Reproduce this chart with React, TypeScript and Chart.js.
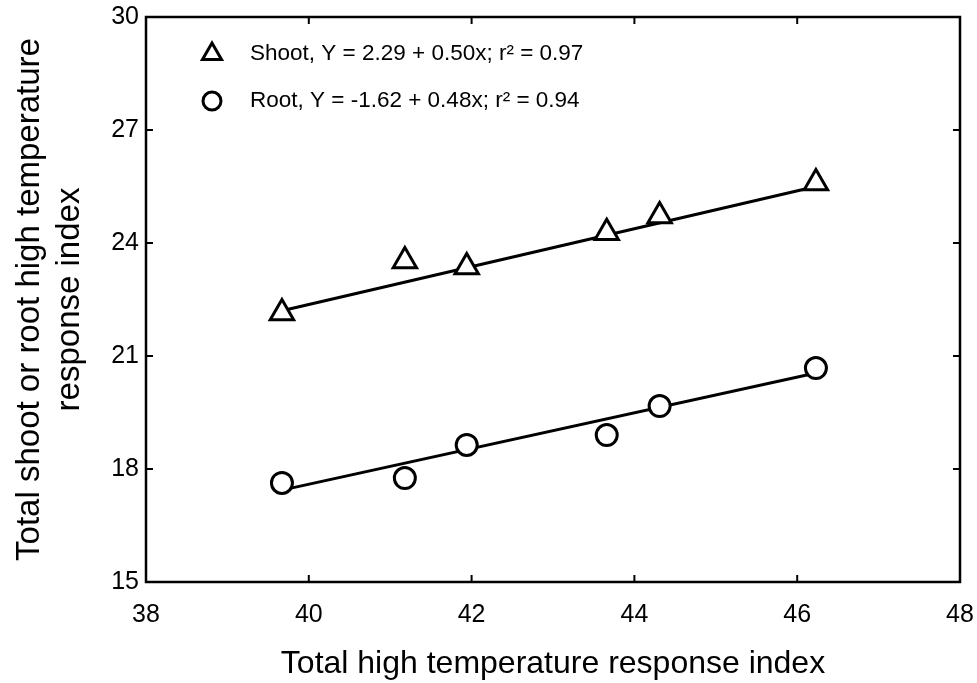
import React, { useEffect, useRef } from "react";
import { Chart, registerables } from "chart.js";
import { drawPoint } from "chart.js/helpers";

Chart.register(...registerables);

// ---- data ----
const xValues = [39.67, 41.18, 41.94, 43.66, 44.31, 46.23];
const shootValues = [22.14, 23.52, 23.36, 24.27, 24.72, 25.59];
const rootValues = [17.63, 17.76, 18.64, 18.9, 19.67, 20.68];

const fitX = [39.67, 46.23];
const shootFit = [22.2, 25.5];
const rootFit = [17.44, 20.55];

const shootLabel = "Shoot, Y = 2.29 + 0.50x; r\u00B2 = 0.97";
const rootLabel = "Root, Y = -1.62 + 0.48x; r\u00B2 = 0.94";

const xTicks = [38, 40, 42, 44, 46, 48];
const yTicks = [15, 18, 21, 24, 27, 30];

const xTitle = "Total high temperature response index";
const yTitle = ["Total shoot or root high temperature", "response index"];

const FONT = "'Liberation Sans', Arial, Helvetica, sans-serif";

const toPoints = (xs: number[], ys: number[]) => xs.map((x, i) => ({ x, y: ys[i] }));

const framePlugin = {
  id: "frame",
  afterDatasetsDraw(chart: any) {
    const { ctx, chartArea } = chart;
    const { left, right, top, bottom } = chartArea;
    const xs = chart.scales.x;
    const ys = chart.scales.y;
    const tl = 7;
    ctx.save();
    ctx.strokeStyle = "#000";
    ctx.lineWidth = 2.5;
    ctx.beginPath();
    ctx.rect(left, top, right - left, bottom - top);
    ctx.stroke();
    ctx.lineWidth = 2;
    ctx.beginPath();
    xs.ticks.forEach((t: any) => {
      const px = xs.getPixelForValue(t.value);
      ctx.moveTo(px, bottom);
      ctx.lineTo(px, bottom - tl);
      ctx.moveTo(px, top);
      ctx.lineTo(px, top + tl);
    });
    ys.ticks.forEach((t: any) => {
      const py = ys.getPixelForValue(t.value);
      ctx.moveTo(left, py);
      ctx.lineTo(left + tl, py);
      ctx.moveTo(right, py);
      ctx.lineTo(right - tl, py);
    });
    ctx.stroke();
    ctx.restore();
  },
};

const legendPlugin = {
  id: "insideLegend",
  afterDatasetsDraw(chart: any) {
    const { ctx, chartArea } = chart;
    const entries = [0, 1];
    ctx.save();
    entries.forEach((dsIndex, i) => {
      const ds = chart.data.datasets[dsIndex];
      const mx = chartArea.left + 66;
      const my = chartArea.top + 37 + i * 47;
      ctx.fillStyle = "#fff";
      ctx.strokeStyle = "#000";
      ctx.lineWidth = 3;
      drawPoint(ctx, { pointStyle: ds.pointStyle, radius: dsIndex === 0 ? 11 : 9, rotation: 0, borderWidth: 3 }, mx, my);
      ctx.fillStyle = "#000";
      ctx.font = `22.5px ${FONT}`;
      ctx.textAlign = "left";
      ctx.textBaseline = "middle";
      ctx.fillText(ds.label, chartArea.left + 104, my);
    });
    ctx.restore();
  },
};

export default function App() {
  const canvasRef = useRef<HTMLCanvasElement | null>(null);

  useEffect(() => {
    if (!canvasRef.current) return;
    const chart = new Chart(canvasRef.current, {
      type: "scatter",
      data: {
        datasets: [
          {
            label: shootLabel,
            data: toPoints(xValues, shootValues),
            pointStyle: "triangle",
            pointRadius: 13.5,
            pointBorderWidth: 3,
            pointBackgroundColor: "#fff",
            pointBorderColor: "#000",
            showLine: false,
            order: 0,
          },
          {
            label: rootLabel,
            data: toPoints(xValues, rootValues),
            pointStyle: "circle",
            pointRadius: 10.5,
            pointBorderWidth: 3,
            pointBackgroundColor: "#fff",
            pointBorderColor: "#000",
            showLine: false,
            order: 0,
          },
          {
            label: "Shoot fit",
            data: toPoints(fitX, shootFit),
            showLine: true,
            borderColor: "#000",
            borderWidth: 3,
            pointRadius: 0,
            order: 1,
          },
          {
            label: "Root fit",
            data: toPoints(fitX, rootFit),
            showLine: true,
            borderColor: "#000",
            borderWidth: 3,
            pointRadius: 0,
            order: 1,
          },
        ],
      },
      options: {
        animation: false,
        responsive: false,
        devicePixelRatio: 1,
        layout: { padding: { left: 0, top: 17, right: 17, bottom: 0 } },
        plugins: {
          legend: { display: false },
          tooltip: { enabled: false },
        },
        scales: {
          x: {
            type: "linear",
            min: xTicks[0],
            max: xTicks[xTicks.length - 1],
            afterBuildTicks: (scale: any) => {
              scale.ticks = xTicks.map((v) => ({ value: v }));
            },
            afterFit: (scale: any) => {
              scale.height = 101;
              scale.paddingLeft = 0;
              scale.paddingRight = 0;
            },
            grid: { display: false, drawTicks: false },
            border: { display: false },
            ticks: {
              color: "#000",
              font: { family: FONT, size: 25 },
              padding: 18,
              maxRotation: 0,
            },
            title: {
              display: true,
              text: xTitle,
              color: "#000",
              font: { family: FONT, size: 32 },
              padding: { top: 0, bottom: 0 },
            },
          },
          y: {
            type: "linear",
            min: yTicks[0],
            max: yTicks[yTicks.length - 1],
            afterBuildTicks: (scale: any) => {
              scale.ticks = yTicks.map((v) => ({ value: v }));
            },
            afterFit: (scale: any) => {
              scale.width = 146;
              scale.paddingTop = 0;
              scale.paddingBottom = 0;
            },
            grid: { display: false, drawTicks: false },
            border: { display: false },
            ticks: {
              color: "#000",
              font: { family: FONT, size: 25 },
              padding: 7,
            },
            title: {
              display: true,
              text: yTitle,
              color: "#000",
              font: { family: FONT, size: 33, lineHeight: 1.21 },
              padding: { top: 10, bottom: 0 },
            },
          },
        },
      },
      plugins: [framePlugin, legendPlugin],
    } as any);
    return () => chart.destroy();
  }, []);

  return (
    <div style={{ position: "fixed", left: 0, top: 0, width: 977, height: 683, background: "#fff" }}>
      <canvas ref={canvasRef} width={977} height={683} style={{ width: 977, height: 683 }} />
    </div>
  );
}
